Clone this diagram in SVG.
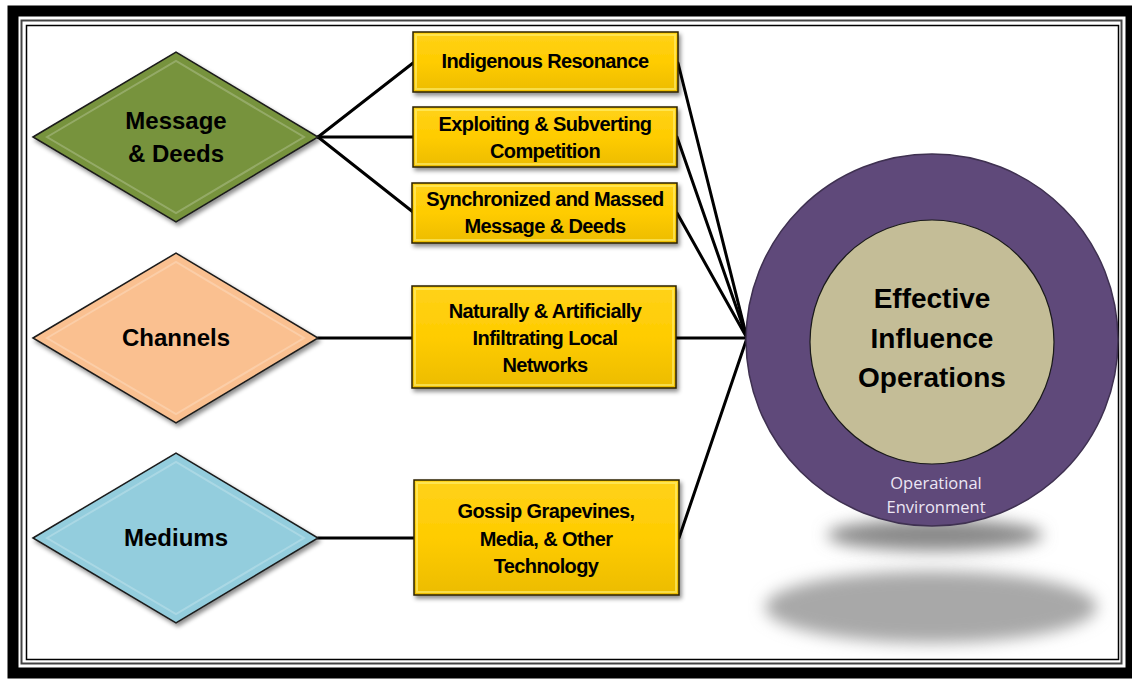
<svg xmlns="http://www.w3.org/2000/svg" width="1132" height="679" viewBox="0 0 1132 679">
<defs>
<style>
.frame{fill:none}
.dia{stroke:#1a1a1a;stroke-width:1.5;filter:url(#ds)}
.hl{fill:none;stroke:#ffffff;stroke-opacity:.22;stroke-width:2}
.box{fill:url(#yel);stroke:#2b2200;stroke-width:1.5;filter:url(#ds)}
.bev{fill:none;stroke:#fff27a;stroke-opacity:.6;stroke-width:2}
.conn{stroke:#000;stroke-width:3;fill:none;stroke-linecap:round}
.dt{font-family:"Liberation Sans",Arial,sans-serif;font-weight:bold;font-size:24px;fill:#000;text-anchor:middle}
.bt{font-family:"Liberation Sans",Arial,sans-serif;font-weight:bold;font-size:20px;fill:#000;text-anchor:middle;letter-spacing:-0.6px}
.ct{font-family:"Liberation Sans",Arial,sans-serif;font-weight:bold;font-size:28px;fill:#000;text-anchor:middle}
.ot{font-family:"Open Sans","Noto Sans",sans-serif;font-size:16.5px;fill:#ece6f4;text-anchor:middle}
</style>
<linearGradient id="yel" x1="0" y1="0" x2="0" y2="1">
<stop offset="0" stop-color="#ffd21a"/>
<stop offset="0.5" stop-color="#ffcc00"/>
<stop offset="1" stop-color="#ecbc00"/>
</linearGradient>
<filter id="ds" x="-10%" y="-10%" width="130%" height="130%">
<feDropShadow dx="2" dy="3" stdDeviation="2" flood-color="#000" flood-opacity="0.45"/>
</filter>
<filter id="blur" x="-30%" y="-60%" width="160%" height="220%">
<feGaussianBlur stdDeviation="8"/>
</filter>
</defs>
<rect width="1132" height="679" fill="#fff"/>
<g id="frame">
<rect x="13" y="11" width="1118" height="662" fill="none" stroke="#000" stroke-width="11"/>
<rect x="21.5" y="20.5" width="1100" height="643" fill="none" stroke="#444" stroke-width="2"/>
<rect x="26.5" y="25.5" width="1092" height="634" fill="none" stroke="#000" stroke-width="1.5"/>
</g>
<g id="shadows">
<ellipse cx="935" cy="535" rx="108" ry="16" fill="#8a8a8a" filter="url(#blur)"/>
<ellipse cx="931" cy="607" rx="166" ry="36" fill="#a8a8a8" filter="url(#blur)"/>
</g>
<g id="connectors">
<line class="conn" x1="318" y1="137" x2="413" y2="63"/>
<line class="conn" x1="318" y1="137" x2="413" y2="137"/>
<line class="conn" x1="318" y1="137" x2="413" y2="212"/>
<line class="conn" x1="318" y1="338" x2="412" y2="338"/>
<line class="conn" x1="318" y1="538" x2="414" y2="538"/>
<line class="conn" x1="678" y1="63" x2="747" y2="338"/>
<line class="conn" x1="677" y1="137" x2="747" y2="338"/>
<line class="conn" x1="677" y1="213" x2="747" y2="338"/>
<line class="conn" x1="676" y1="338" x2="747" y2="338"/>
<line class="conn" x1="679" y1="538" x2="747" y2="338"/>
</g>
<g id="message">
<polygon class="dia" points="33,137 176,52 318,137 176,222" fill="#77933c"/>
<polygon class="hl" points="47,137 176,61 304,137 176,213"/>
<text class="dt" x="176" y="129">Message</text>
<text class="dt" x="176" y="162">&amp; Deeds</text>
</g>
<g id="channels">
<polygon class="dia" points="33,338 176,253 318,338 176,423" fill="#fac090"/>
<polygon class="hl" points="47,338 176,262 304,338 176,414"/>
<text class="dt" x="176" y="346">Channels</text>
</g>
<g id="mediums">
<polygon class="dia" points="33,538 176,453 318,538 176,623" fill="#93cddd"/>
<polygon class="hl" points="47,538 176,462 304,538 176,614"/>
<text class="dt" x="176" y="546">Mediums</text>
</g>
<g id="indigenous">
<rect class="box" x="413" y="32" width="265" height="60"/>
<rect class="bev" x="416" y="35" width="259" height="54"/>
<text class="bt" x="545" y="68">Indigenous Resonance</text>
</g>
<g id="exploiting">
<rect class="box" x="413" y="107" width="264" height="60"/>
<rect class="bev" x="416" y="110" width="258" height="54"/>
<text class="bt" x="545" y="131">Exploiting &amp; Subverting</text>
<text class="bt" x="545" y="158">Competition</text>
</g>
<g id="synchronized">
<rect class="box" x="412" y="183" width="265" height="60"/>
<rect class="bev" x="415" y="186" width="259" height="54"/>
<text class="bt" x="545" y="206">Synchronized and Massed</text>
<text class="bt" x="545" y="233">Message &amp; Deeds</text>
</g>
<g id="naturally">
<rect class="box" x="412" y="286" width="264" height="102"/>
<rect class="bev" x="415" y="289" width="258" height="96"/>
<text class="bt" x="545" y="318">Naturally &amp; Artificially</text>
<text class="bt" x="545" y="345">Infiltrating Local</text>
<text class="bt" x="545" y="372">Networks</text>
</g>
<g id="gossip">
<rect class="box" x="414" y="480" width="265" height="115"/>
<rect class="bev" x="417" y="483" width="259" height="109"/>
<text class="bt" x="546" y="518">Gossip Grapevines,</text>
<text class="bt" x="546" y="546">Media, &amp; Other</text>
<text class="bt" x="546" y="573">Technology</text>
</g>
<g id="environment">
<circle cx="932" cy="340" r="186" fill="#5f497a" stroke="#3f3151" stroke-width="1.5"/>
<circle cx="932" cy="342" r="122" fill="#c4bd97" stroke="#1a1a1a" stroke-width="1.2"/>
<text class="ct" x="932" y="308">Effective</text>
<text class="ct" x="932" y="348">Influence</text>
<text class="ct" x="932" y="387">Operations</text>
<text class="ot" x="936" y="489">Operational</text>
<text class="ot" x="936" y="513">Environment</text>
</g>
</svg>
